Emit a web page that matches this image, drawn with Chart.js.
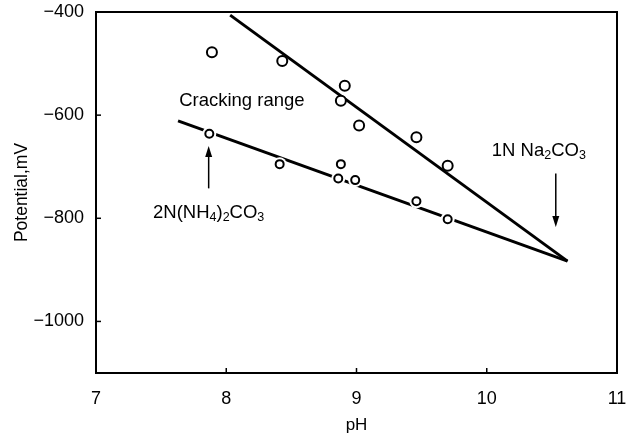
<!DOCTYPE html>
<html>
<head>
<meta charset="utf-8">
<script src="https://cdn.jsdelivr.net/npm/chart.js@4.4.1/dist/chart.umd.min.js"></script>
<style>
  html, body { margin: 0; padding: 0; background: #fff; }
  #wrap { width: 630px; height: 436px; }
</style>
</head>
<body>
<div id="wrap"><canvas id="grafico"></canvas></div>
<script>
// Dados
const upperPH = [7.89, 8.43, 8.91, 8.88, 9.02, 9.46, 9.70];
const upperMV = [-478, -495, -543, -572, -620, -643, -698];
const lowerPH = [7.87, 8.41, 8.88, 8.86, 8.99, 9.46, 9.70];
const lowerMV = [-636, -695, -695, -723, -726, -767, -802];
const upperLinePH = [8.03, 10.62];
const upperLineMV = [-406, -883];
const lowerLinePH = [7.63, 10.62];
const lowerLineMV = [-611, -883];
const xTicks = [7, 8, 9, 10, 11];
const yTicks = [-400, -600, -800, -1000];

const pares = (xs, ys) => xs.map((x, i) => ({ x, y: ys[i] }));
const FONTE = '"Liberation Sans", Arial, sans-serif';

// Textos com subscrito: [texto, subscrito?]
const rotulos = [
  { x: 8.12, y: -568, runs: [['Cracking range', false]] },
  { x: 7.865, y: -786, runs: [['2N(NH', false], ['4', true], [')', false], ['2', true], ['CO', false], ['3', true]] },
  { x: 10.40, y: -665, runs: [['1N Na', false], ['2', true], ['CO', false], ['3', true]] }
];
// Setas: de (x, y0) até (x, y1), ponta em y1
const setas = [
  { x: 7.865, y0: -742, y1: -660 },
  { x: 10.53, y0: -713, y1: -817 }
];

const desenhaTexto = (ctx, cx, cy, runs) => {
  const grande = '18.5px ' + FONTE, pequeno = '12.5px ' + FONTE;
  let total = 0;
  runs.forEach(([t, sub]) => { ctx.font = sub ? pequeno : grande; total += ctx.measureText(t).width; });
  let x = cx - total / 2;
  ctx.textBaseline = 'alphabetic';
  ctx.textAlign = 'left';
  runs.forEach(([t, sub]) => {
    ctx.font = sub ? pequeno : grande;
    ctx.fillText(t, x, cy + 7 + (sub ? 3 : 0));
    x += ctx.measureText(t).width;
  });
};

const extras = {
  id: 'extras',
  afterDatasetsDraw(chart) {
    const { ctx, chartArea: a, scales: { x, y } } = chart;
    ctx.save();
    ctx.strokeStyle = '#000';
    ctx.fillStyle = '#000';
    // moldura
    ctx.lineWidth = 2;
    ctx.strokeRect(a.left, a.top, a.right - a.left, a.bottom - a.top);
    // marcas internas
    ctx.lineWidth = 1.5;
    xTicks.forEach(v => {
      const px = x.getPixelForValue(v);
      ctx.beginPath(); ctx.moveTo(px, a.bottom); ctx.lineTo(px, a.bottom - 5); ctx.stroke();
    });
    yTicks.forEach(v => {
      const py = y.getPixelForValue(v);
      ctx.beginPath(); ctx.moveTo(a.left, py); ctx.lineTo(a.left + 5, py); ctx.stroke();
    });
    // rótulos
    rotulos.forEach(r => desenhaTexto(ctx, x.getPixelForValue(r.x), y.getPixelForValue(r.y), r.runs));
    // setas
    setas.forEach(s => {
      const px = x.getPixelForValue(s.x);
      const p0 = y.getPixelForValue(s.y0), p1 = y.getPixelForValue(s.y1);
      const dir = p1 > p0 ? 1 : -1;
      ctx.lineWidth = 1.5;
      ctx.beginPath(); ctx.moveTo(px, p0); ctx.lineTo(px, p1 - dir * 8); ctx.stroke();
      ctx.beginPath();
      ctx.moveTo(px, p1);
      ctx.lineTo(px - 3.5, p1 - dir * 11);
      ctx.lineTo(px + 3.5, p1 - dir * 11);
      ctx.closePath(); ctx.fill();
    });
    ctx.restore();
  }
};

new Chart(document.getElementById('grafico'), {
  type: 'scatter',
  data: {
    datasets: [
      { data: pares(upperLinePH, upperLineMV), showLine: true, borderColor: '#000', borderWidth: 3, pointRadius: 0, order: 4 },
      { data: pares(lowerLinePH, lowerLineMV), showLine: true, borderColor: '#000', borderWidth: 3, pointRadius: 0, order: 4 },
      { data: pares(lowerPH, lowerMV), pointRadius: 7, pointBorderWidth: 0, pointBackgroundColor: '#fff', pointBorderColor: '#fff', order: 3 },
      { data: pares(upperPH, upperMV), pointRadius: 5, pointBorderWidth: 2, pointBackgroundColor: '#fff', pointBorderColor: '#000', order: 1 },
      { data: pares(lowerPH, lowerMV), pointRadius: 4, pointBorderWidth: 2, pointBackgroundColor: '#fff', pointBorderColor: '#000', order: 1 }
    ]
  },
  options: {
    responsive: true,
    maintainAspectRatio: false,
    animation: false,
    events: [],
    layout: { padding: { left: 0, right: 13, top: 12, bottom: 0 } },
    plugins: { legend: { display: false }, tooltip: { enabled: false } },
    scales: {
      x: {
        type: 'linear', min: 7, max: 11,
        afterBuildTicks: s => { s.ticks = xTicks.map(v => ({ value: v })); },
        afterFit: s => { s.height = 63; s.paddingLeft = 0; s.paddingRight = 0; },
        grid: { display: false, drawTicks: false },
        border: { display: false },
        ticks: { color: '#000', font: { family: FONTE, size: 18 }, padding: 15, maxRotation: 0 },
        title: { display: true, text: 'pH', color: '#000', font: { family: FONTE, size: 17 }, padding: { top: 3, bottom: 0 } }
      },
      y: {
        type: 'linear', min: -1100, max: -400,
        afterBuildTicks: s => { s.ticks = yTicks.map(v => ({ value: v })); },
        afterFit: s => { s.width = 96; s.paddingTop = 0; s.paddingBottom = 0; },
        grid: { display: false, drawTicks: false },
        border: { display: false },
        ticks: { color: '#000', font: { family: FONTE, size: 18 }, padding: 12,
          callback: v => String(v).replace('-', '\u2212') },
        title: { display: true, text: 'Potential,mV', color: '#000', font: { family: FONTE, size: 17.5 }, padding: { top: 12, bottom: 0 } }
      }
    }
  },
  plugins: [extras]
});
</script>
</body>
</html>
